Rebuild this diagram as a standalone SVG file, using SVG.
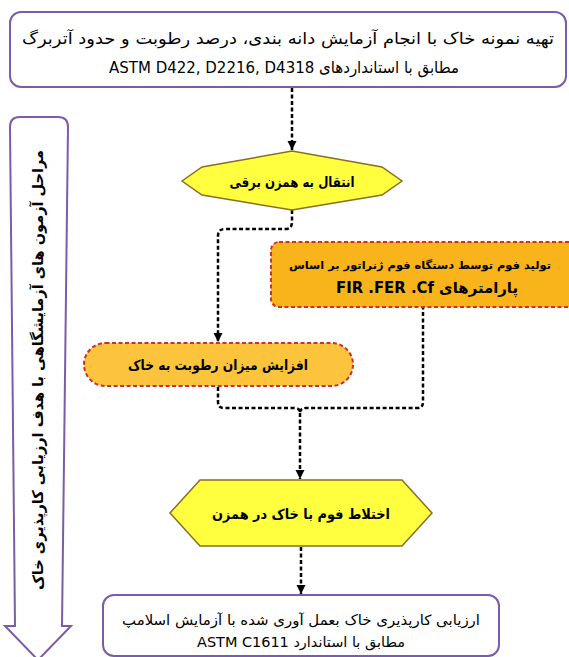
<svg xmlns="http://www.w3.org/2000/svg" width="569" height="657" viewBox="0 0 569 657">
<defs>
<marker id="ah" viewBox="0 0 10 10" refX="10" refY="5" markerWidth="9" markerHeight="10" markerUnits="userSpaceOnUse" orient="auto">
<path d="M0,0 L10,5 L0,10 Z" fill="#000"/>
</marker>
<style>
.t{font-family:"DejaVu Sans",sans-serif;fill:#000;text-anchor:middle;dominant-baseline:central}
.b{font-weight:bold}
.box{fill:#fff;stroke:#7b5ca8;stroke-width:2}
.hex{fill:#ffff3f;stroke:#8c6d22;stroke-width:1.5}
.org{stroke:#d12f28;stroke-width:2;stroke-dasharray:4 2.5}
.con{fill:none;stroke:#000;stroke-width:2.5;stroke-dasharray:4 2.5}
</style>
</defs>
<rect width="569" height="657" fill="#fff"/>
<g id="side">
<path class="box" d="M10,127 Q10,117 20,117 H58 Q68,117 68,127 L62,626 L71,626 L38,660 L5,626 L15,626 Z"/>
<text class="t b" font-size="15" transform="translate(38,370) rotate(-90)" textLength="440" lengthAdjust="spacingAndGlyphs">مراحل آزمون های آزمایشگاهی با هدف ارزیابی کارپذیری خاک</text>
</g>
<g id="connectors">
<path class="con" d="M292,88 V150" marker-end="url(#ah)"/>
<path class="con" d="M292,210 V222 Q292,229 285,229 H225 Q218,229 218,236 V342" marker-end="url(#ah)"/>
<path class="con" d="M218,387 V402 Q218,408 224,408 H294 Q300,408 300,413 Q300,408 306,408 H417 Q423,408 423,402 V307"/>
<path class="con" d="M300,413 V479" marker-end="url(#ah)"/>
<path class="con" d="M301,547 V594" marker-end="url(#ah)"/>
</g>
<g id="n1">
<rect class="box" x="10" y="12" width="556" height="75" rx="11"/>
<text class="t" x="288" y="38" font-size="16" textLength="532" lengthAdjust="spacingAndGlyphs">تهیه نمونه خاک با انجام آزمایش دانه بندی، درصد رطوبت و حدود آتربرگ</text>
<text class="t" x="284" y="67" font-size="16" direction="ltr" textLength="350" lengthAdjust="spacingAndGlyphs">ASTM D422, D2216, D4318  مطابق با استانداردهای</text>
</g>
<g id="n2">
<path class="hex" d="M182,181 L202,167 L292,151 L382,167 L402,181 L382,195 L292,210 L202,195 Z"/>
<text class="t b" x="292" y="182" font-size="14" textLength="125" lengthAdjust="spacingAndGlyphs">انتقال به همزن برقی</text>
</g>
<g id="n3">
<rect class="org" x="271" y="242" width="312" height="65" rx="8" fill="#f9b31b"/>
<text class="t b" x="420" y="265" font-size="11" textLength="262" lengthAdjust="spacingAndGlyphs">تولید فوم توسط دستگاه فوم ژنراتور بر اساس</text>
<text class="t b" x="427" y="288" font-size="15" direction="ltr" textLength="182" lengthAdjust="spacingAndGlyphs">FIR .FER .Cf پارامترهای</text>
</g>
<g id="n4">
<rect class="org" x="84" y="343" width="269" height="43" rx="21.5" fill="#fcc43c"/>
<text class="t b" x="218" y="365" font-size="14" textLength="180" lengthAdjust="spacingAndGlyphs">افزایش میزان رطوبت به خاک</text>
</g>
<g id="n5">
<path class="hex" d="M170,513 L200,480 L402,480 L432,513 L402,546 L200,546 Z"/>
<text class="t b" x="301" y="514" font-size="14" textLength="178" lengthAdjust="spacingAndGlyphs">اختلاط فوم با خاک در همزن</text>
</g>
<g id="n6">
<rect class="box" x="103" y="595" width="396" height="61" rx="11"/>
<text class="t" x="301" y="620" font-size="14" textLength="358" lengthAdjust="spacingAndGlyphs">ارزیابی کارپذیری خاک بعمل آوری شده با آزمایش اسلامپ</text>
<text class="t" x="301" y="642" font-size="14" direction="ltr" textLength="208" lengthAdjust="spacingAndGlyphs">ASTM C1611 مطابق با استاندارد</text>
</g>
</svg>
